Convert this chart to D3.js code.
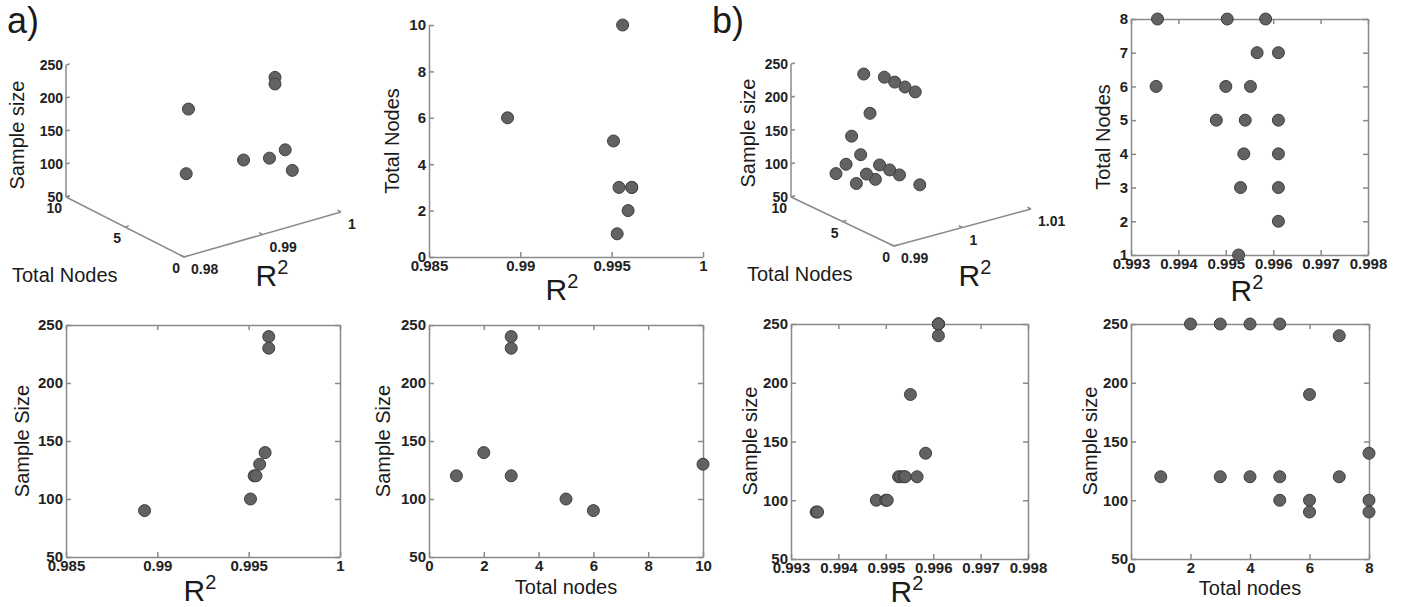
<!DOCTYPE html>
<html>
<head>
<meta charset="utf-8">
<script src="https://cdn.jsdelivr.net/npm/d3@7"></script>
<style>
  body { margin: 0; background: #fff; }
  svg text { font-family: "Liberation Sans", Arial, Helvetica, sans-serif; fill: #1a1a1a; }
  .axis path, .axis line, .ax3 { stroke: #8a8a8a; stroke-width: 1.5; fill: none; }
  .axis .tick text { font-size: 15px; font-weight: bold; fill: #222; }
  .t3 { font-size: 14px; font-weight: bold; fill: #222; }
  .lab { font-size: 20px; }
  .r2 { font-size: 30px; }
  .panel { font-size: 36px; }
  .dot { fill: #626262; stroke: #3e3e3e; stroke-width: 1; }
</style>
</head>
<body>
<div id="chart"></div>
<script>
// set a) - 8 networks
var aR2    = [0.9953, 0.9959, 0.9961, 0.9961, 0.9954, 0.9951, 0.9893, 0.9956];
var aNodes = [1, 2, 3, 3, 3, 5, 6, 10];
var aSize  = [120, 140, 240, 230, 120, 100, 90, 130];

// set b) - 17 networks
var bR2    = [0.99527, 0.99611, 0.99611, 0.99531, 0.99611, 0.99538, 0.99611, 0.99541, 0.99480,
              0.99552, 0.99500, 0.99353, 0.99611, 0.99566, 0.99584, 0.99503, 0.99356];
var bNodes = [1, 2, 3, 3, 4, 4, 5, 5, 5, 6, 6, 6, 7, 7, 8, 8, 8];
var bSize  = [120, 250, 250, 120, 250, 120, 250, 120, 100, 190, 100, 90, 240, 120, 140, 100, 90];

// tick values
var sizeTicks   = [50, 100, 150, 200, 250];
var r2TicksA    = [0.985, 0.99, 0.995, 1];
var r2TicksB    = [0.993, 0.994, 0.995, 0.996, 0.997, 0.998];
var nodeTicksA  = [0, 2, 4, 6, 8, 10];
var nodeTicksB  = [1, 2, 3, 4, 5, 6, 7, 8];
var nodeTicksB2 = [0, 2, 4, 6, 8];
var r2Ticks3dA  = [0.98, 0.99, 1];
var r2Ticks3dB  = [0.99, 1, 1.01];
var nodeTicks3d = [0, 5, 10];

var width = 1402, height = 607;

var svg = d3.select("#chart").append("svg")
    .attr("width", width)
    .attr("height", height);

var fmt = function(d) { return String(+d.toFixed(4)); };

var setA = aR2.map(function(v, i) { return { r2: v, n: aNodes[i], s: aSize[i] }; });
var setB = bR2.map(function(v, i) { return { r2: v, n: bNodes[i], s: bSize[i] }; });

function rLabel(x, y) {
    var t = svg.append("text").attr("class", "r2")
        .attr("x", x).attr("y", y)
        .attr("text-anchor", "middle")
        .text("R");
    t.append("tspan").attr("dy", -12).style("font-size", "20px").text("2");
}

function yLabel(x, y, txt) {
    svg.append("text").attr("class", "lab")
        .attr("transform", "translate(" + x + "," + y + ") rotate(-90)")
        .attr("text-anchor", "middle")
        .attr("dominant-baseline", "central")
        .text(txt);
}

// plain 2D scatter, matlab style: ticks inward, optional box
function scatter(o) {
    var w = o.right - o.left, h = o.bottom - o.top;
    var g = svg.append("g").attr("transform", "translate(" + o.left + "," + o.top + ")");
    var x = d3.scaleLinear().domain(o.xDomain).range([0, w]);
    var y = d3.scaleLinear().domain(o.yDomain).range([h, 0]);

    g.append("g").attr("class", "axis").attr("transform", "translate(0," + h + ")")
        .call(d3.axisBottom(x).tickValues(o.xTicks).tickFormat(fmt)
            .tickSizeInner(-5).tickSizeOuter(0).tickPadding(3));
    g.append("g").attr("class", "axis")
        .call(d3.axisLeft(y).tickValues(o.yTicks).tickFormat(fmt)
            .tickSizeInner(-5).tickSizeOuter(0).tickPadding(3));
    if (o.box) {
        g.append("g").attr("class", "axis")
            .call(d3.axisTop(x).tickValues(o.xTicks).tickFormat("")
                .tickSizeInner(-5).tickSizeOuter(0));
        g.append("g").attr("class", "axis").attr("transform", "translate(" + w + ",0)")
            .call(d3.axisRight(y).tickValues(o.yTicks).tickFormat("")
                .tickSizeInner(-5).tickSizeOuter(0));
    }

    g.selectAll("circle").data(o.data).enter().append("circle")
        .attr("class", "dot")
        .attr("r", 6)
        .attr("cx", function(d) { return x(d[o.xKey]); })
        .attr("cy", function(d) { return y(d[o.yKey]); });
}

// oblique 3D scatter (R2 x Total Nodes x Sample size)
function scatter3d(o) {
    var nS = d3.scaleLinear().domain([0, 10]).range([0, 1]);
    var rS = d3.scaleLinear().domain(o.rDomain).range([0, 1]);
    var sS = d3.scaleLinear().domain([50, 250]).range([0, o.sHeight]);
    var nv = [o.nEnd[0] - o.origin[0], o.nEnd[1] - o.origin[1]];
    var rv = [o.rEnd[0] - o.origin[0], o.rEnd[1] - o.origin[1]];
    function p(n, r, s) {
        var a = nS(n), b = rS(r);
        return [o.origin[0] + a * nv[0] + b * rv[0], o.origin[1] + a * nv[1] + b * rv[1] - sS(s)];
    }
    function unit(v) { var l = Math.hypot(v[0], v[1]); return [v[0] / l, v[1] / l]; }
    var un = unit(nv), ur = unit(rv);
    var r0 = o.rDomain[0], r1 = o.rDomain[1];
    var line = d3.line();

    svg.append("path").attr("class", "ax3").attr("d", line([p(0, r0, 50), p(10, r0, 50)]));
    svg.append("path").attr("class", "ax3").attr("d", line([p(0, r0, 50), p(0, r1, 50)]));
    svg.append("path").attr("class", "ax3").attr("d", line([p(10, r0, 50), p(10, r0, 250)]));

    // sample size ticks
    sizeTicks.forEach(function(s) {
        var q = p(10, r0, s);
        svg.append("path").attr("class", "ax3").attr("d", line([q, [q[0] + 4 * ur[0], q[1] + 4 * ur[1]]]));
        svg.append("text").attr("class", "t3")
            .attr("x", q[0] - 3).attr("y", q[1])
            .attr("text-anchor", "end").attr("dominant-baseline", "central")
            .text(s);
    });
    // node ticks
    nodeTicks3d.forEach(function(n) {
        var q = p(n, r0, 50);
        svg.append("path").attr("class", "ax3").attr("d", line([q, [q[0] + 4 * ur[0], q[1] + 4 * ur[1]]]));
        svg.append("text").attr("class", "t3")
            .attr("x", q[0] - 4).attr("y", q[1] + 11)
            .attr("text-anchor", "end").attr("dominant-baseline", "central")
            .text(n);
    });
    // R2 ticks
    o.rTicks.forEach(function(r) {
        var q = p(0, r, 50);
        svg.append("path").attr("class", "ax3").attr("d", line([q, [q[0] + 4 * un[0], q[1] + 4 * un[1]]]));
        svg.append("text").attr("class", "t3")
            .attr("x", q[0] + 7).attr("y", q[1] + 12)
            .attr("text-anchor", "start").attr("dominant-baseline", "central")
            .text(fmt(r));
    });

    svg.selectAll(null).data(o.data).enter().append("circle")
        .attr("class", "dot")
        .attr("r", 6)
        .attr("cx", function(d) { return p(d.n, d.r2, d.s)[0]; })
        .attr("cy", function(d) { return p(d.n, d.r2, d.s)[1]; });
}

// panel letters
svg.append("text").attr("class", "panel").attr("x", 7).attr("y", 33).text("a)");
svg.append("text").attr("class", "panel").attr("x", 712).attr("y", 33).text("b)");

// ---- a) ----
scatter3d({ origin: [184, 257], nEnd: [66, 197], rEnd: [341, 212], sHeight: 132,
            rDomain: [0.98, 1], rTicks: r2Ticks3dA, data: setA });
yLabel(17, 135, "Sample size");
svg.append("text").attr("class", "lab").attr("x", 12).attr("y", 282).text("Total Nodes");
rLabel(272, 286);

scatter({ left: 429, right: 703, top: 25, bottom: 257, box: false,
          xDomain: [0.985, 1], yDomain: [0, 10], xTicks: r2TicksA, yTicks: nodeTicksA,
          xKey: "r2", yKey: "n", data: setA });
yLabel(392, 141, "Total Nodes");
rLabel(562, 300);

scatter({ left: 66, right: 340, top: 325, bottom: 557, box: true,
          xDomain: [0.985, 1], yDomain: [50, 250], xTicks: r2TicksA, yTicks: sizeTicks,
          xKey: "r2", yKey: "s", data: setA });
yLabel(22, 441, "Sample Size");
rLabel(200, 601);

scatter({ left: 429, right: 703, top: 325, bottom: 557, box: true,
          xDomain: [0, 10], yDomain: [50, 250], xTicks: nodeTicksA, yTicks: sizeTicks,
          xKey: "n", yKey: "s", data: setA });
yLabel(383, 441, "Sample Size");
svg.append("text").attr("class", "lab").attr("x", 566).attr("y", 594)
    .attr("text-anchor", "middle").text("Total nodes");

// ---- b) ----
scatter3d({ origin: [894, 246], nEnd: [791, 197], rEnd: [1031, 209], sHeight: 133,
            rDomain: [0.99, 1.01], rTicks: r2Ticks3dB, data: setB });
yLabel(748, 133, "Sample size");
svg.append("text").attr("class", "lab").attr("x", 747).attr("y", 281).text("Total Nodes");
rLabel(975, 286);

scatter({ left: 1131, right: 1368, top: 19, bottom: 255, box: true,
          xDomain: [0.993, 0.998], yDomain: [1, 8], xTicks: r2TicksB, yTicks: nodeTicksB,
          xKey: "r2", yKey: "n", data: setB });
yLabel(1103, 137, "Total Nodes");
rLabel(1247, 301);

scatter({ left: 791, right: 1028, top: 324, bottom: 559, box: true,
          xDomain: [0.993, 0.998], yDomain: [50, 250], xTicks: r2TicksB, yTicks: sizeTicks,
          xKey: "r2", yKey: "s", data: setB });
yLabel(750, 441, "Sample size");
rLabel(907, 602);

scatter({ left: 1131, right: 1369, top: 324, bottom: 559, box: true,
          xDomain: [0, 8], yDomain: [50, 250], xTicks: nodeTicksB2, yTicks: sizeTicks,
          xKey: "n", yKey: "s", data: setB });
yLabel(1090, 441, "Sample size");
svg.append("text").attr("class", "lab").attr("x", 1250).attr("y", 595)
    .attr("text-anchor", "middle").text("Total nodes");
</script>
</body>
</html>
